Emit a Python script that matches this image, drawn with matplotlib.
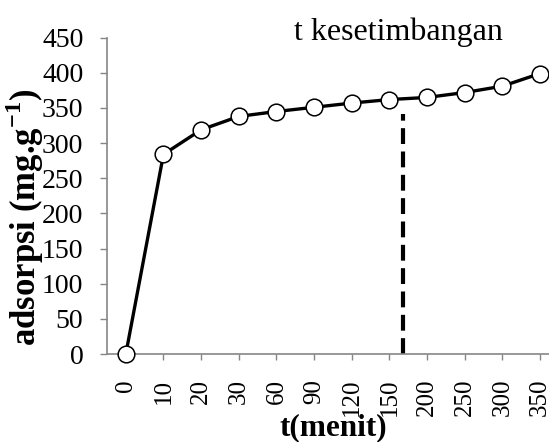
import matplotlib
matplotlib.use("Agg")
import matplotlib.pyplot as plt

categories = ["0", "10", "20", "30", "60", "90", "120", "150", "200", "250", "300", "350"]
adsorpsi = [0, 284, 319, 338, 345, 351, 357, 362, 365, 372, 381, 399]
eq_x = 7.35          # position of equilibrium marker (between 150 and 200)
eq_top = 342
yticks = [0, 50, 100, 150, 200, 250, 300, 350, 400, 450]

plt.rcParams['font.family'] = ['Liberation Serif', 'DejaVu Serif']
plt.rcParams['mathtext.fontset'] = 'custom'
plt.rcParams['mathtext.rm'] = 'Liberation Serif'
plt.rcParams['mathtext.bf'] = 'Liberation Serif:bold'

fig = plt.figure(figsize=(5.49, 4.42), dpi=100)
ax = fig.add_axes([107/549, 1-354/442, 1-107/549, (354-37.7)/442])

x = list(range(len(categories)))
ax.plot([eq_x, eq_x], [0, eq_top], color='black', lw=3, linestyle=(0, (3.8, 1.8)), zorder=2)
ax.plot(x, adsorpsi, color='black', lw=2.4, marker='o', markersize=12,
        markerfacecolor='white', markeredgecolor='black', markeredgewidth=1.1, zorder=3, clip_on=False)

ax.set_xlim(-0.5, 11.24)
ax.set_ylim(0, 450)
ax.set_yticks(yticks)
ax.set_yticklabels([str(v) for v in yticks], fontsize=20)
ax.set_xticks(x)
ax.set_xticklabels(categories, rotation=90, fontsize=18)

for s in ['top', 'right']:
    ax.spines[s].set_visible(False)
for s in ['left', 'bottom']:
    ax.spines[s].set_color('#868686')
    ax.spines[s].set_linewidth(1.2)
ax.tick_params(axis='y', direction='out', length=5, width=1, color='#868686', pad=12)
ax.tick_params(axis='x', direction='out', length=4, width=1, color='#868686', pad=14)

ax.set_ylabel('adsorpsi (mg.g$^{\\mathbf{-1}}$)', fontsize=25, fontweight='bold')
ax.yaxis.set_label_coords(-0.139, 0.433)

fig.text(333/549, 1-435/442, 't(menit)', fontsize=22.5, fontweight='bold', ha='center', va='baseline')
fig.text(398/549, 1-40/442, 't kesetimbangan', fontsize=23, ha='center', va='baseline')

fig.savefig('out.png', dpi=100)
